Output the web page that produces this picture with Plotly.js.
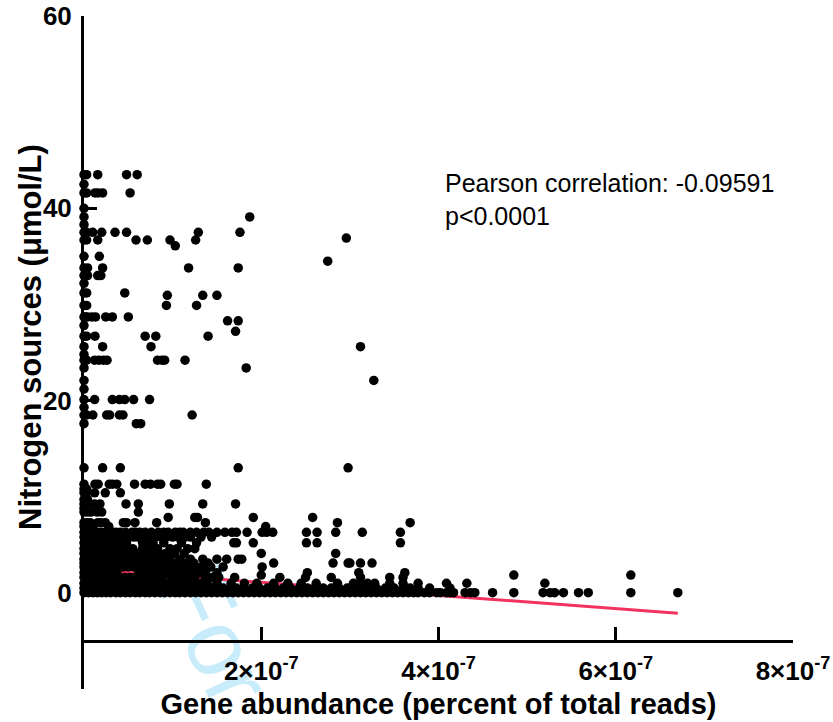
<!DOCTYPE html>
<html>
<head>
<meta charset="utf-8">
<script src="https://cdn.plot.ly/plotly-3.0.1.min.js"></script>
<style>
html,body{margin:0;padding:0;background:#fff;}
#chart{width:833px;height:722px;}
</style>
</head>
<body>
<div id="chart"></div>
<script>
// Gene abundance values are in units of 1e-7 (percent of total reads);
// nitrogen sources in µmol/L. Each row of abundanceRows belongs to nitrogenLevels[i].
const nitrogenLevels = [
  43.5, 42.5, 41.6, 40.0, 39.1, 38.3, 37.5, 36.9, 36.7, 36.1, 35.0, 34.5, 33.8, 33.0, 32.2,
  31.2, 30.95, 29.9, 28.7, 28.3, 27.8, 27.2, 26.7, 25.6, 24.8, 24.2, 23.4, 22.1, 21.2, 20.1,
  19.3, 18.5, 17.6, 13.0, 11.3, 10.8, 10.4, 9.7, 9.25, 8.8, 8.4, 7.85, 7.3, 6.9,
  6.3, 5.8, 5.2, 4.6, 4.1, 3.5, 3.1, 2.7, 2.1, 1.85, 1.6, 1.0, 0.5, 0.02
];
const abundanceRows = [
  [0, 0.03, 0.155, 0.48, 0.60],
  [0],
  [0, 0.03, 0.124, 0.16, 0.21, 0.52],
  [0],
  [0, 1.87],
  [0],
  [0, 0.03, 0.098, 0.2, 0.35, 0.48, 1.29, 1.76],
  [2.96],
  [0, 0.03, 0.155, 0.587, 0.715, 0.97, 1.26],
  [1.03],
  [0, 0.173],
  [2.75],
  [0, 0.04, 0.21, 1.18, 1.74],
  [0, 0.04, 0.155, 0.19],
  [0],
  [0, 0.03, 0.46],
  [0.94, 1.34, 1.50],
  [0, 0.03, 0.93, 1.27],
  [0, 0.02, 0.04, 0.09, 0.13, 0.245, 0.32, 0.50],
  [1.62, 1.74],
  [0],
  [1.71],
  [0, 0.03, 0.124, 0.69, 0.81, 1.40],
  [0, 0.21, 0.756, 3.12],
  [0],
  [0, 0.03, 0.12, 0.17, 0.22, 0.26, 0.83, 0.88, 0.91, 1.14],
  [0, 1.83],
  [0, 3.27],
  [0],
  [0, 0.12, 0.32, 0.40, 0.46, 0.56, 0.74],
  [0],
  [0, 0.03, 0.1, 0.256, 0.29, 0.40, 0.44, 1.22],
  [0, 0.59, 0.64],
  [0, 0.21, 0.41, 1.74, 2.98],
  [0, 0.124, 0.16, 0.285, 0.32, 0.37, 0.57, 0.69, 0.75, 0.83, 0.865, 1.02, 1.05, 1.38],
  [0, 0.03],
  [0, 0.03, 0.12, 0.24, 0.41],
  [0, 0.04],
  [0, 0.03, 0.12, 0.18, 0.474, 0.613, 0.963, 1.34, 1.71],
  [0, 0.03],
  [0, 0.04, 0.08, 0.15, 0.2, 0.613],
  [0.95, 1.25, 1.28, 1.91, 2.58],
  [0, 0.03, 0.07, 0.155, 0.19, 0.24, 0.444, 0.48, 0.575, 0.82, 1.37, 2.86, 3.68],
  [0, 0.05, 0.1, 0.28, 2.05],
  [0, 0.03, 0.07, 0.11, 0.14, 0.19, 0.23, 0.27, 0.32, 0.36, 0.41, 0.47, 0.54, 0.58, 0.63, 0.69, 0.76, 0.84, 0.9, 0.95, 1.03, 1.08, 1.12, 1.2, 1.27, 1.35, 1.41, 1.5, 1.59, 1.67, 1.72, 1.84, 2.01, 2.06, 2.13, 2.51, 2.63, 2.84, 3.14, 3.57],
  [0, 0.04, 0.09, 0.13, 0.18, 0.22, 0.27, 0.31, 0.36, 0.4, 0.45, 0.5, 0.56, 0.61, 0.67, 0.74, 0.8, 0.87, 0.93, 1.0, 1.06, 1.14, 1.2, 1.32, 1.44],
  [0, 0.05, 0.1, 0.16, 0.21, 0.25, 0.3, 0.36, 0.42, 0.48, 0.66, 0.71, 0.78, 0.9, 1.1, 1.27, 1.69, 1.72, 1.91, 2.51, 2.63, 3.57],
  [0, 0.04, 0.08, 0.14, 0.2, 0.26, 0.32, 0.38, 0.44, 0.5, 0.55, 0.66, 0.74, 0.83, 0.97, 1.05, 1.17, 1.25],
  [0, 0.05, 0.11, 0.16, 0.22, 0.28, 0.33, 0.37, 0.43, 0.49, 0.55, 0.61, 0.68, 0.76, 0.85, 0.92, 1.02, 1.13, 2.0, 2.84],
  [0, 0.04, 0.09, 0.15, 0.2, 0.24, 0.3, 0.35, 0.41, 0.47, 0.52, 0.58, 0.64, 0.7, 0.79, 0.88, 0.97, 1.08, 1.2, 1.34, 1.5, 1.61, 1.74, 1.78],
  [0, 0.06, 0.12, 0.18, 0.24, 0.29, 0.34, 0.4, 0.46, 0.53, 0.6, 0.67, 0.73, 0.82, 0.9, 0.99, 1.06, 1.15, 1.24, 1.4, 2.14, 2.81, 2.98, 3.0, 3.12, 3.25],
  [0, 0.05, 0.1, 0.15, 0.21, 0.27, 0.32, 0.38, 0.44, 0.5, 0.56, 0.62, 0.69, 0.75, 0.81, 0.89, 0.96, 1.03, 1.1, 1.18, 1.26, 1.33, 1.43, 1.57, 2.01],
  [0, 0.04, 0.09, 0.14, 0.19, 0.25, 0.31, 0.37, 0.62, 0.66, 0.72, 0.78, 0.85, 0.91, 0.98, 1.05, 1.11, 1.18, 1.24, 1.3, 1.37, 1.5, 2.52, 3.1, 3.62],
  [2.0, 4.85, 6.17],
  [0, 0.06, 0.11, 0.17, 0.23, 0.28, 0.34, 0.4, 0.46, 0.52, 0.58, 0.63, 0.69, 0.75, 0.8, 0.88, 0.98, 1.07, 1.12, 1.19, 1.25, 1.37, 1.45, 1.52, 1.7, 2.21, 2.5, 2.79, 3.12, 3.45, 3.6],
  [0, 0.04, 0.1, 0.15, 0.2, 0.26, 0.32, 0.37, 0.43, 0.49, 0.55, 0.61, 0.67, 0.72, 0.78, 0.84, 0.9, 0.96, 1.02, 1.08, 1.14, 1.2, 1.27, 1.33, 1.39, 1.5, 1.66, 1.81, 1.95, 2.14, 2.3, 2.45, 2.62, 2.86, 3.04, 3.12, 3.2, 3.28, 3.45, 3.6, 3.77, 4.09, 4.32, 5.2],
  [0, 0.05, 0.1, 0.16, 0.21, 0.27, 0.33, 0.39, 0.45, 0.51, 0.57, 0.63, 0.69, 0.75, 0.81, 0.87, 0.93, 0.99, 1.05, 1.11, 1.17, 1.23, 1.3, 1.36, 1.43, 1.5, 1.57, 1.65, 1.72, 1.8, 1.9, 1.98, 2.07, 2.16, 2.25, 2.33, 2.43, 2.52, 2.6, 2.7, 2.79, 2.88, 2.97, 3.06, 3.14, 3.22, 3.3, 3.4, 3.5, 3.6, 3.68, 3.77, 3.9, 4.13],
  [0, 0.05, 0.1, 0.15, 0.2, 0.25, 0.3, 0.36, 0.41, 0.47, 0.52, 0.58, 0.63, 0.69, 0.74, 0.8, 0.86, 0.91, 0.97, 1.03, 1.08, 1.14, 1.2, 1.26, 1.32, 1.38, 1.44, 1.5, 1.56, 1.62, 1.68, 1.74, 1.8, 1.86, 1.92, 1.98, 2.04, 2.1, 2.16, 2.22, 2.28, 2.34, 2.4, 2.46, 2.52, 2.58, 2.64, 2.7, 2.76, 2.82, 2.88, 2.94, 3.0, 3.06, 3.12, 3.18, 3.24, 3.3, 3.36, 3.42, 3.48, 3.54, 3.6, 3.66, 3.72, 3.77, 3.84, 3.9, 3.98, 4.02, 4.09, 4.13, 4.17, 4.3, 4.36, 4.41, 4.61, 4.85, 5.18, 5.26, 5.31, 5.41, 5.58, 5.69, 6.17, 6.7]
];
// Regression line end points
const fitX = [0, 6.70];
const fitY = [2.45, -2.11];
// Axis ticks
const xTickVals = [2, 4, 6, 8];
const xTickText = ['2×10<sup>-7</sup>', '4×10<sup>-7</sup>', '6×10<sup>-7</sup>', '8×10<sup>-7</sup>'];
const yTickVals = [0, 20, 40, 60];
const yTickText = ['0', '20', '40', '60'];
// Texts
const xTitle = 'Gene abundance (percent of total reads)';
const yTitle = 'Nitrogen sources (μmol/L)';
const statText = 'Pearson correlation: -0.09591<br>p&lt;0.0001';
const watermarkText = 'For';

const ptsX = [], ptsY = [];
abundanceRows.forEach(function (row, i) {
  row.forEach(function (v) { ptsX.push(v); ptsY.push(nitrogenLevels[i]); });
});

const FONT = 'Arial, "Liberation Sans", Helvetica, sans-serif';

const traces = [
  {
    x: fitX, y: fitY, type: 'scatter', mode: 'lines',
    line: {color: '#f2325f', width: 3}, hoverinfo: 'skip', cliponaxis: false
  },
  {
    x: ptsX, y: ptsY, type: 'scatter', mode: 'markers',
    marker: {color: '#000', size: 9.5, line: {width: 0}}, cliponaxis: false
  }
];

const layout = {
  width: 833, height: 722,
  margin: {l: 84, r: 40, t: 16, b: 33},
  paper_bgcolor: '#ffffff',
  plot_bgcolor: 'rgba(0,0,0,0)',
  showlegend: false,
  font: {family: FONT, color: '#000'},
  xaxis: {
    range: [0, 8], anchor: 'free', position: 0.0713,
    showline: true, linewidth: 3, linecolor: '#000',
    ticks: 'inside', ticklen: 13, tickwidth: 3, tickcolor: '#000',
    tickmode: 'array', tickvals: xTickVals, ticktext: xTickText,
    tickfont: {family: FONT, size: 26, weight: 700, color: '#000'},
    ticklabelstandoff: 6,
    showgrid: false, zeroline: false, automargin: false,
    title: {text: xTitle, font: {family: FONT, size: 29, weight: 700, color: '#000'}, standoff: 8}
  },
  yaxis: {
    range: [-10, 60],
    showline: true, linewidth: 3, linecolor: '#000',
    ticks: 'inside', ticklen: 13, tickwidth: 3, tickcolor: '#000',
    tickmode: 'array', tickvals: yTickVals, ticktext: yTickText,
    tickfont: {family: FONT, size: 26, weight: 700, color: '#000'},
    ticklabelstandoff: 4,
    showgrid: false, zeroline: false, automargin: false
  },
  annotations: [
    {
      x: -0.0762, y: 0.523, xref: 'paper', yref: 'paper', xanchor: 'center', yanchor: 'middle',
      text: yTitle, showarrow: false, textangle: -90,
      font: {family: FONT, size: 31, weight: 700, color: '#000'}
    },
    {
      x: 4.05, y: 40.9, xref: 'x', yref: 'y', xanchor: 'left', yanchor: 'middle', align: 'left',
      text: statText, showarrow: false,
      font: {family: FONT, size: 25, color: '#000'}
    },
    {
      x: 0.186, y: 0.08, xref: 'paper', yref: 'paper', xanchor: 'center', yanchor: 'middle',
      text: watermarkText, showarrow: false, textangle: 65,
      font: {family: FONT, size: 95, color: '#c9ecfa'}
    }
  ]
};

Plotly.newPlot('chart', traces, layout, {displayModeBar: false, staticPlot: true}).then(function () {
  // send the watermark behind the data, as in the reference
  var svg = document.querySelector('#chart .main-svg');
  var cart = svg && svg.querySelector('.cartesianlayer');
  if (!svg || !cart) return;
  var anns = document.querySelectorAll('#chart .annotation');
  anns.forEach(function (a) {
    if (a.textContent === watermarkText) { svg.insertBefore(a, cart); }
  });
});
</script>
</body>
</html>
